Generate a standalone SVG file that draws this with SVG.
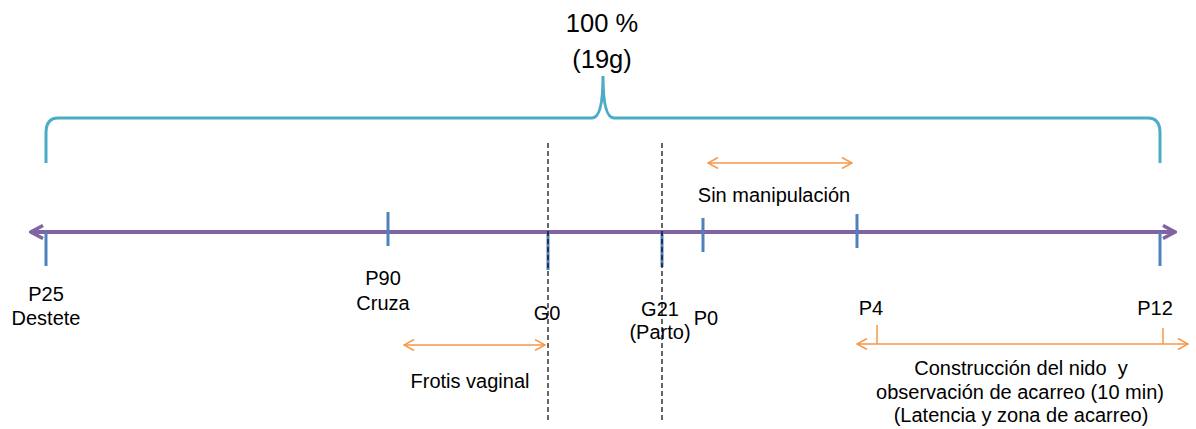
<svg xmlns="http://www.w3.org/2000/svg" width="1196" height="429" viewBox="0 0 1196 429">
<style>
text{font-family:"Liberation Sans",Arial,sans-serif;font-size:20px;fill:#000;text-anchor:middle}
.big{font-size:25.5px}
.tick{stroke:#4F81BD;stroke-width:3;fill:none}
.dash{stroke:#000;stroke-width:1.2;stroke-dasharray:5,3;fill:none}
.or{stroke:#F79646;stroke-width:1.5;fill:none}
</style>
<defs>
<marker id="oa" viewBox="0 0 12 12" refX="11" refY="6" markerWidth="12" markerHeight="12" markerUnits="userSpaceOnUse" orient="auto-start-reverse">
<path d="M1,0.5 L11,6 L1,11.5" fill="none" stroke="#F79646" stroke-width="1.5"/>
</marker>
<marker id="pa" viewBox="0 0 16 16" refX="14" refY="8" markerWidth="16" markerHeight="16" markerUnits="userSpaceOnUse" orient="auto-start-reverse">
<path d="M2,1.5 L14,8 L2,14.5" fill="none" stroke="#8064A2" stroke-width="3.5"/>
</marker>
</defs>
<g id="brace">
<path d="M46,163 L46,133 Q46,118 58,118 L592,118 Q603,118 603,76 Q603,118 614,118 L1148,118 Q1160,118 1160,133 L1160,163" fill="none" stroke="#4BACC6" stroke-width="3"/>
<text class="big" x="602" y="32">100 %</text>
<text class="big" x="602" y="68">(19g)</text>
</g>
<g id="connectors">
<line x1="31" y1="232" x2="1175" y2="232" stroke="#8064A2" stroke-width="4" marker-start="url(#pa)" marker-end="url(#pa)"/>
<line class="or" x1="708" y1="163" x2="852" y2="163" marker-start="url(#oa)" marker-end="url(#oa)"/>
<line class="or" x1="404" y1="345" x2="545" y2="345" marker-start="url(#oa)" marker-end="url(#oa)"/>
<line class="or" x1="857" y1="344" x2="1188" y2="344" marker-start="url(#oa)" marker-end="url(#oa)"/>
<line class="or" x1="877" y1="325" x2="877" y2="344"/>
<line class="or" x1="1163" y1="328" x2="1163" y2="344"/>
</g>
<g id="p25">
<line class="tick" x1="46" y1="232" x2="46" y2="266"/>
<text x="46" y="301">P25</text>
<text x="46" y="325">Destete</text>
</g>
<g id="p90">
<line class="tick" x1="388" y1="212" x2="388" y2="246"/>
<text x="383" y="285">P90</text>
<text x="383" y="310">Cruza</text>
</g>
<g id="g0">
<line class="tick" x1="548" y1="232" x2="548" y2="270"/>
<text x="547" y="320">G0</text>
</g>
<g id="g21">
<line class="tick" x1="662" y1="232" x2="662" y2="267"/>
<text x="660" y="316">G21</text>
<text x="660" y="339">(Parto)</text>
</g>
<g id="p0">
<line class="tick" x1="703" y1="218" x2="703" y2="252"/>
<text x="706" y="325">P0</text>
</g>
<g id="p4">
<line class="tick" x1="857" y1="214" x2="857" y2="248"/>
<text x="871" y="315">P4</text>
</g>
<g id="p12">
<line class="tick" x1="1160" y1="232" x2="1160" y2="266"/>
<text x="1155" y="315">P12</text>
</g>
<g id="sin">
<text x="774" y="202">Sin manipulación</text>
</g>
<g id="frotis">
<text x="470" y="388">Frotis vaginal</text>
</g>
<g id="construccion">
<text x="1021" y="375" xml:space="preserve">Construcción del nido  y</text>
<text x="1020" y="399">observación de acarreo (10 min)</text>
<text x="1021" y="422">(Latencia y zona de acarreo)</text>
</g>
<g id="guides">
<line class="dash" x1="548" y1="143" x2="548" y2="421"/>
<line class="dash" x1="662" y1="143" x2="662" y2="421"/>
</g>
</svg>
